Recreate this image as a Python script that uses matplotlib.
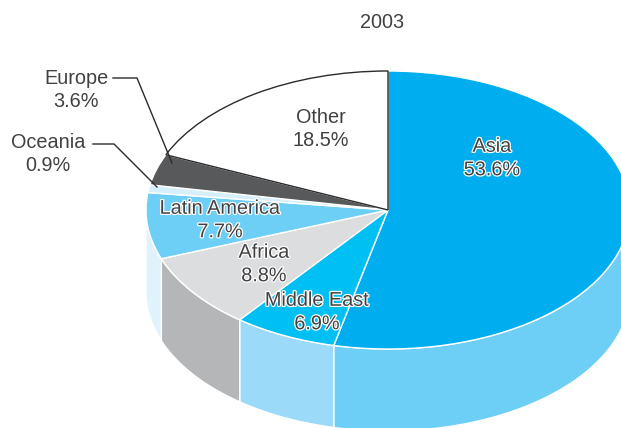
import numpy as np
import matplotlib
matplotlib.use("Agg")
import matplotlib.pyplot as plt
import matplotlib.patheffects as pe

plt.rcParams['font.family'] = ['Liberation Sans', 'DejaVu Sans']

regions = ["Asia", "Middle East", "Africa", "Latin America", "Oceania", "Europe", "Other"]
shares = [53.6, 6.9, 8.8, 7.7, 0.9, 3.6, 18.5]
top_colors = ["#00AEEF", "#00BFF3", "#DCDDDE", "#6DCFF6", "#D6EFFC", "#58595B", "#FFFFFF"]
side_colors = ["#6DCFF6", "#9BDBF9", "#B5B6B8", "#E0F3FD", "#E0F3FD", "#58595B", "#FFFFFF"]
title = "2003"

W, H = 621, 428
CX, CY, RX, RY = 388.0, 210.0, 242.0, 139.0
DEPTH = 82.0 / RY
TEXT = "#414042"


def px(x, y):
    """Convert figure pixel coordinates (top-left origin) to pie units."""
    return (x - CX) / RX, (CY - y) / RY


fig = plt.figure(figsize=(W / 100, H / 100), dpi=100)
ax = fig.add_axes([0, 0, 1, 1])

# Front wall of the disc: only the part of each slice facing the viewer
edges = np.concatenate([[0], np.cumsum(shares)]) / sum(shares) * 360
for start, stop, side in zip(edges[:-1], edges[1:], side_colors):
    lo, hi = max(start, 90), min(stop, 270)
    if lo >= hi:
        continue
    theta = np.radians(np.linspace(lo, hi, 120))
    xs, ys = np.sin(theta), np.cos(theta)
    ax.fill(np.r_[xs, xs[::-1]], np.r_[ys, ys[::-1] - DEPTH],
            facecolor=side, edgecolor="white", linewidth=1.0, zorder=1)

wedges, _ = ax.pie(shares, colors=top_colors, startangle=90, counterclock=False,
                   radius=1.0, center=(0, 0), frame=True,
                   wedgeprops=dict(edgecolor="white", linewidth=1.0, zorder=2))
wedges[-1].set_edgecolor("#2B2B2B")
wedges[-1].set_zorder(3)

ax.set_aspect("auto")
ax.set_xlim((0 - CX) / RX, (W - CX) / RX)
ax.set_ylim((CY - H) / RY, CY / RY)
ax.axis("off")

halo = [pe.withStroke(linewidth=1.8, foreground="white")]
FS = 14.3


def label(x, y, s, effects=None):
    px_x, px_y = px(x, y)
    ax.text(px_x, px_y, s, ha="center", va="center", fontsize=FS, color=TEXT,
            linespacing=1.3, multialignment="center", path_effects=effects, zorder=5)


label(382, 22, title)
label(321, 129, f"{regions[6]}\n{shares[6]}%")
label(492, 158, f"{regions[0]}\n{shares[0]}%", halo)
label(220, 220, f"{regions[3]}\n{shares[3]}%", halo)
label(264, 264, f"{regions[2]}\n{shares[2]}%", halo)
label(317, 312, f"{regions[1]}\n{shares[1]}%", halo)
label(76, 90, f"{regions[5]}\n{shares[5]}%")
label(48, 154, f"{regions[4]}\n{shares[4]}%")

# Leader lines for the two slices too narrow to hold their labels
for path in ([(113, 78), (137, 78), (172, 163)], [(93, 144), (114, 144), (157, 187)]):
    pts = np.array([px(*p) for p in path])
    ax.plot(pts[:, 0], pts[:, 1], color="#2B2B2B", linewidth=1.0, zorder=6)

fig.savefig("out.png", dpi=100)
